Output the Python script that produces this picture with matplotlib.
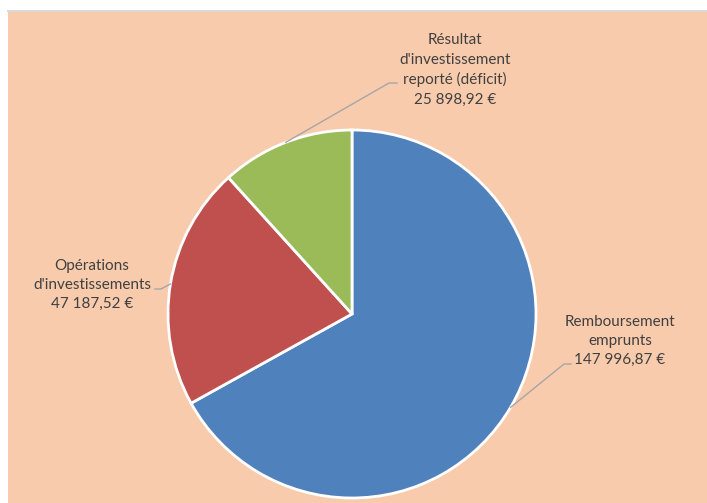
import numpy as np
import matplotlib.pyplot as plt
from matplotlib.patches import Rectangle

# Données
categories = ['Remboursement\nemprunts', "Opérations\nd'investissements",
              "Résultat\nd'investissement\nreporté (déficit)"]
values = [147996.87, 47187.52, 25898.92]
value_labels = ['147 996,87 €', '47 187,52 €', '25 898,92 €']
colors = ['#4F81BD', '#C0504D', '#9BBB59']

W, H = 707, 503
fig = plt.figure(figsize=(W / 100, H / 100), dpi=100)
fig.patch.set_facecolor('white')
ax = fig.add_axes([0, 0, 1, 1])

# fond de la zone du graphique
ax.add_patch(Rectangle((8, 0), W - 8, H - 11, facecolor='#F8CBAD', edgecolor='none', zorder=0))
ax.plot([8, W], [H - 11, H - 11], color='#D9D9D9', lw=1.5, zorder=1)

cx, cy, r = 352, H - 314, 184
wedges, _ = ax.pie(values, colors=colors, startangle=90, counterclock=False,
                   center=(cx, cy), radius=r, frame=True,
                   wedgeprops=dict(edgecolor='white', linewidth=2))
ax.set_xlim(0, W)
ax.set_ylim(0, H)
ax.set_aspect('equal')
ax.axis('off')

# position des étiquettes (pixels, haut -> bas)
label_pos = [(620, 341), (92, 285), (455, 70)]
anchors = [(571, 364), (155, 289), (397, 83)]
stubs = [(564, 364), (161, 289), (389, 83)]

for w, name, val, (lx, ly), (axp, ayp), (sx, sy) in zip(
        wedges, categories, value_labels, label_pos, anchors, stubs):
    ang = np.deg2rad((w.theta1 + w.theta2) / 2)
    ex = cx + r * np.cos(ang)
    ey = cy + r * np.sin(ang)
    ax.plot([ex, sx, axp], [ey, H - sy, H - ayp], color='#A6A6A6', lw=1, zorder=3)
    ax.text(lx, H - ly, name + '\n' + val, ha='center', va='center',
            fontsize=11, family=['Lato', 'DejaVu Sans'], color='#404040',
            linespacing=1.48, zorder=4)

fig.savefig('out.png', dpi=100)
